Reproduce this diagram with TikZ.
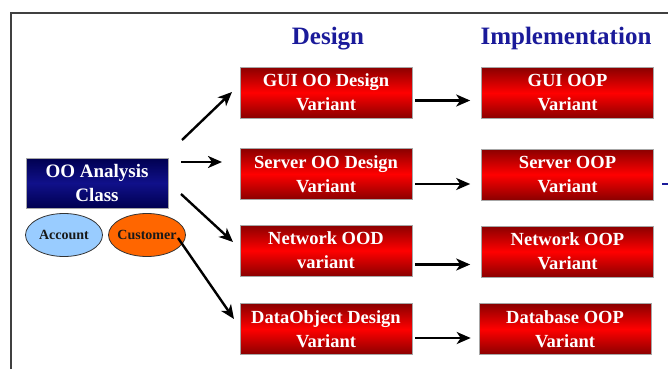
\documentclass[tikz,border=0pt]{standalone}
\usepackage{fontspec}
\setmainfont{Liberation Serif}
\usetikzlibrary{arrows.meta,calc,shapes.geometric}
\definecolor{titleblue}{HTML}{1A1A9A}
\definecolor{boxdark}{HTML}{8A0000}
\definecolor{boxred}{HTML}{FF0000}
\definecolor{navydark}{HTML}{000050}
\definecolor{navymid}{HTML}{10108A}
\definecolor{acctblue}{HTML}{99CCFF}
\definecolor{custorange}{HTML}{FF6600}
\tikzset{
  redbox/.style={draw=gray!70, line width=0.6pt, minimum width=172pt, minimum height=51pt,
    top color=boxdark, bottom color=boxdark, middle color=boxred,
    text=white, align=center, inner sep=0pt,
    font=\bfseries\fontsize{18.5}{24}\selectfont},
  navybox/.style={draw=gray!70, line width=0.6pt, minimum width=142pt, minimum height=50pt,
    top color=navydark, bottom color=navydark, middle color=navymid,
    text=white, align=center, inner sep=0pt,
    font=\bfseries\fontsize{19}{24}\selectfont},
  oval/.style={ellipse, draw=black!80, line width=0.8pt, minimum width=77pt, minimum height=43pt,
    inner sep=-10pt, text=black!90, font=\bfseries\fontsize{14}{16}\selectfont},
  coltitle/.style={text=titleblue, font=\bfseries\fontsize{25}{28}\selectfont},
  flow/.style={line width=2.4pt, -{Stealth[length=14pt,width=12pt,inset=4pt]}},
}
\begin{document}
\begin{tikzpicture}[x=1pt,y=-1pt]
\useasboundingbox (0,0) rectangle (668,369);
\fill[white] (0,0) rectangle (668,369);
% frame
\draw[line width=1.8pt, black!75] (11,369) -- (11,13) -- (668,13);
% titles
\node[coltitle] (tdes) at (328,39) {Design};
\node[coltitle] (timp) at (566,38) {Implementation};
% analysis
\node[navybox] (oo) at (97,183) {OO Analysis\\Class};
\node[oval, fill=acctblue] (acc) at (64,235) {Account};
\node[oval, fill=custorange] (cus) at (147,235) {Customer};
% design column
\node[redbox] (d1) at (326,92.5) {GUI OO Design\\Variant};
\node[redbox] (d2) at (326,174) {Server OO Design\\Variant};
\node[redbox] (d3) at (326,250.5) {Network OOD\\variant};
\node[redbox] (d4) at (326,329) {DataObject Design\\Variant};
% implementation column
\node[redbox] (i1) at (567.5,93) {GUI OOP\\Variant};
\node[redbox] (i2) at (567.5,174.5) {Server OOP\\Variant};
\node[redbox] (i3) at (567.5,251.5) {Network OOP\\Variant};
\node[redbox] (i4) at (565,329) {Database OOP\\Variant};
% arrow anchor coordinates
\coordinate (a1s) at (182,140);
\coordinate (a1e) at (232,92);
\coordinate (a2s) at (181,162);
\coordinate (a2e) at (222,162);
\coordinate (a3s) at (181,194);
\coordinate (a3e) at (233,242);
\coordinate (a4s) at (178,238);
\coordinate (a4e) at (234,319);
\draw[flow] (a1s) -- (a1e);
\draw[flow] (a2s) -- (a2e);
\draw[flow] (a3s) -- (a3e);
\draw[flow] (a4s) -- (a4e);
% horizontal arrows
\draw[flow, shorten <=3pt, shorten >=11pt] ([yshift=-8pt]d1.east) -- ([yshift=-8pt]d1.east -| i1.west);
\draw[flow, shorten <=3pt, shorten >=11pt] ([yshift=-10pt]d2.east) -- ([yshift=-10pt]d2.east -| i2.west);
\draw[flow, shorten <=3pt, shorten >=11pt] ([yshift=-14pt]d3.east) -- ([yshift=-14pt]d3.east -| i3.west);
\draw[flow, shorten <=3pt, shorten >=8pt] ([yshift=-9pt]d4.east) -- ([yshift=-9pt]d4.east -| i4.west);
% partial blue mark at right edge
\coordinate (bm) at (668,184);
\draw[titleblue, line width=2pt] ([xshift=-6pt]bm) -- (bm);
\end{tikzpicture}
\end{document}
